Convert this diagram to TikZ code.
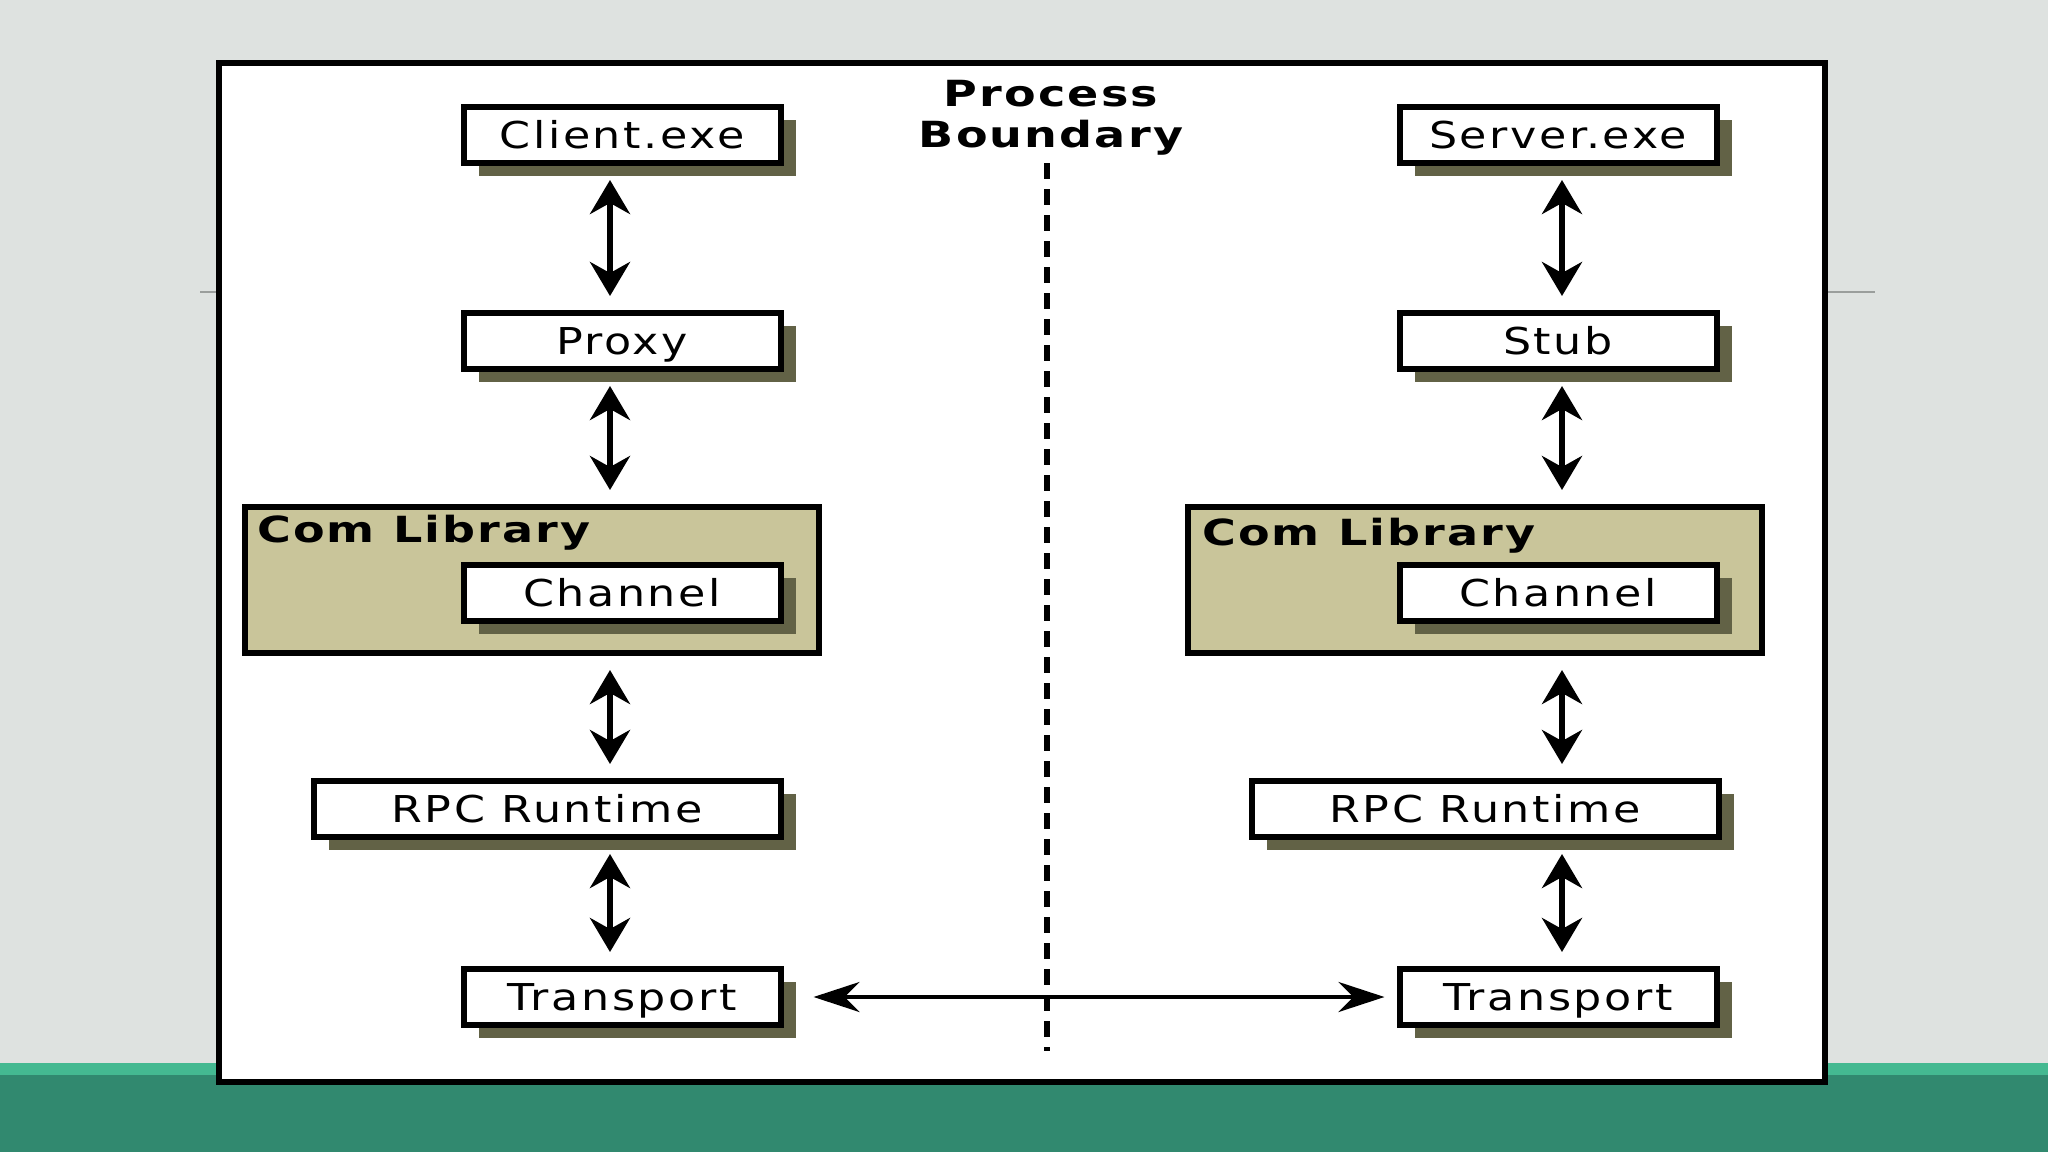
\documentclass[tikz,border=0pt]{standalone}
\usepackage{fontspec}
\setmainfont{DejaVu Sans}
\newfontfamily\boxfont[FakeStretch=1.2,LetterSpace=7]{DejaVu Sans}
\newfontfamily\tagfont[FakeStretch=1.28,LetterSpace=6]{DejaVu Sans}
\usetikzlibrary{arrows.meta,positioning,shadows}
\definecolor{slidegray}{HTML}{DEE2E0}
\definecolor{slideline}{HTML}{9A9E9C}
\definecolor{slidegreen}{HTML}{31896F}
\definecolor{slidemint}{HTML}{44B991}
\definecolor{libolive}{HTML}{C9C59A}
\definecolor{shadeolive}{HTML}{626246}

\begin{document}
\begin{tikzpicture}[
  x=1pt, y=-1pt,
  box/.style={draw=black, line width=6pt, fill=white, minimum width=317pt, minimum height=56pt, inner sep=0pt, text height=27pt, text depth=0pt, font=\boxfont\fontsize{37}{44}\selectfont, drop shadow={shadow xshift=15pt, shadow yshift=-13pt, fill=shadeolive, opacity=1}},
  widebox/.style={box, minimum width=467pt},
  lib/.style={draw=black, line width=6pt, fill=libolive, minimum width=574pt, minimum height=146pt, inner sep=0pt},
  libtag/.style={inner sep=0pt, text height=26pt, text depth=0pt, font=\tagfont\bfseries\fontsize{36}{41}\selectfont},
  updown/.style={{Stealth[length=34pt,width=40pt]}-{Stealth[length=34pt,width=40pt]}, line width=6pt, shorten <=14pt, shorten >=14pt},
  across/.style={{Stealth[length=46pt,width=30pt]}-{Stealth[length=46pt,width=30pt]}, line width=4pt},
  boundary/.style={line width=6pt, dash pattern=on 16pt off 10pt}
]
% slide behind the figure
\useasboundingbox (0,0) rectangle (2048,1152);
\fill[slidegray] (0,0) rectangle (2048,1152);
\fill[slidemint] (0,1063) rectangle (2048,1152);
\fill[slidegreen] (0,1075) rectangle (2048,1152);
\draw[slideline, line width=2pt] (200,292) -- (1875,292);
\filldraw[fill=white, draw=black, line width=6pt] (219,63) rectangle (1825,1082);

% process boundary
\node[libtag, text height=, text depth=, align=center] (pbound) at (1051,118) {Process\\Boundary};
\coordinate (bTop) at (1047,163);
\coordinate (bBot) at (1047,1051);
\draw[boundary] (bTop) -- (bBot);

% client side
\node[box] (client) at (622,135) {Client.exe};
\node[box] (proxy) at (622,341) {Proxy};
\node[lib] (comL) at (532,580) {};
\node[libtag, below right=12pt and 15pt of comL.north west] (comTagL) {Com Library};
\node[box] (chanL) at (622,593) {Channel};
\node[widebox] (rpcL) at (547,809) {RPC Runtime};
\node[box] (transL) at (622,997) {Transport};

% server side
\node[box] (server) at (1558,135) {Server.exe};
\node[box] (stub) at (1558,341) {Stub};
\node[lib] (comR) at (1475,580) {};
\node[libtag, below right=15pt and 17pt of comR.north west] (comTagR) {Com Library};
\node[box] (chanR) at (1558,593) {Channel};
\node[widebox] (rpcR) at (1485,809) {RPC Runtime};
\node[box] (transR) at (1558,997) {Transport};

\coordinate (colL) at (610,0);
\coordinate (colR) at (1562,0);
\draw[updown] (client.south -| colL) -- (proxy.north -| colL);
\draw[updown] (proxy.south -| colL) -- (comL.north -| colL);
\draw[updown] (comL.south -| colL) -- (rpcL.north -| colL);
\draw[updown] (rpcL.south -| colL) -- (transL.north -| colL);
\draw[updown] (server.south -| colR) -- (stub.north -| colR);
\draw[updown] (stub.south -| colR) -- (comR.north -| colR);
\draw[updown] (comR.south -| colR) -- (rpcR.north -| colR);
\draw[updown] (rpcR.south -| colR) -- (transR.north -| colR);
\draw[across, shorten <=30pt, shorten >=12pt] (transL.east) -- (transR.west);
\end{tikzpicture}
\end{document}
